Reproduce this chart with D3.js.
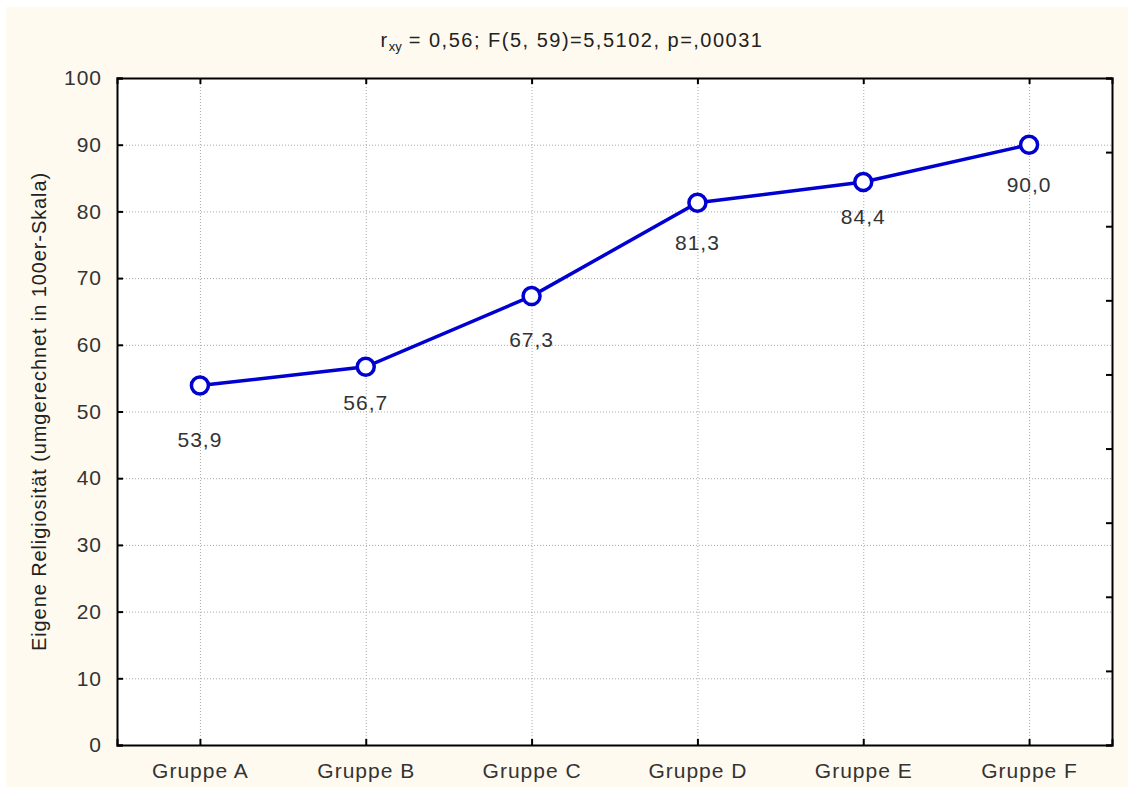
<!DOCTYPE html>
<html>
<head>
<meta charset="utf-8">
<script src="https://cdn.jsdelivr.net/npm/d3@7"></script>
<style>
body { margin: 0; background: #fff; }
svg { display: block; font-family: "Liberation Sans", Arial, sans-serif; }
.grid line { stroke: #a8a8a8; stroke-dasharray: 1,2; }
.grid path { display: none; }
.axis path, .axis line { stroke: #000; stroke-width: 2; }
.axis text { fill: #333; font-size: 21px; letter-spacing: 1px; }
</style>
</head>
<body>
<script>
// data
const groups = ['Gruppe A', 'Gruppe B', 'Gruppe C', 'Gruppe D', 'Gruppe E', 'Gruppe F']
const means = [53.9, 56.7, 67.3, 81.3, 84.4, 90.0]
const meanLabels = ['53,9', '56,7', '67,3', '81,3', '84,4', '90,0']
const labelOffsets = [55, 36, 44, 40, 35, 40] // label distance under the point
const yTicks = [0, 10, 20, 30, 40, 50, 60, 70, 80, 90, 100]
const rightTicks = [0, 1, 2, 3, 4, 5, 6, 7, 8, 9]

const W = 1128, H = 796
const margin = {top: 78, right: 16, bottom: 51, left: 117}
const pw = W - margin.left - margin.right
const ph = H - margin.top - margin.bottom

const svg = d3.select(document.body)
    .append('svg')
    .attr('width', W)
    .attr('height', H)

// panel
svg.append('rect')
    .attr('x', 6).attr('y', 7)
    .attr('width', W - 6).attr('height', H - 16)
    .attr('fill', '#fffaef')

const g = svg.append('g')
    .attr('transform', `translate(${margin.left},${margin.top})`)

g.append('rect')
    .attr('width', pw).attr('height', ph)
    .attr('fill', '#fff')

const xScale = d3.scalePoint()
    .domain(groups)
    .range([0, pw])
    .padding(0.5)
const yScale = d3.scaleLinear()
    .domain([0, 100])
    .range([ph, 0])
const rScale = d3.scaleLinear()
    .domain([0, 9])
    .range([ph, 0])

// grid
g.append('g')
    .attr('class', 'grid')
    .call(d3.axisLeft(yScale).tickValues(yTicks.slice(1, -1)).tickSize(-pw).tickFormat(''))
g.append('g')
    .attr('class', 'grid')
    .attr('transform', `translate(0,${ph})`)
    .call(d3.axisBottom(xScale).tickSize(-ph).tickFormat(''))

// axes
g.append('g')
    .attr('class', 'axis')
    .call(d3.axisLeft(yScale).tickValues(yTicks).tickSize(-6).tickPadding(15))
g.append('g')
    .attr('class', 'axis')
    .attr('transform', `translate(0,${ph})`)
    .call(d3.axisBottom(xScale).tickSize(-6).tickPadding(18))
g.append('g')
    .attr('class', 'axis')
    .call(d3.axisTop(xScale).tickSize(-6).tickFormat(''))
g.append('g')
    .attr('class', 'axis')
    .attr('transform', `translate(${pw},0)`)
    .call(d3.axisRight(rScale).tickValues(rightTicks).tickSize(-6).tickFormat(''))

g.selectAll('.axis .domain').attr('stroke-width', 2.5)

// line
const line = d3.line()
    .x(function(d, i){ return xScale(groups[i]) })
    .y(function(d){ return yScale(d) })

g.append('path')
    .attr('d', line(means))
    .attr('fill', 'none')
    .attr('stroke', '#0000d0')
    .attr('stroke-width', 3.5)

g.selectAll('circle.pt')
    .data(means)
    .enter()
    .append('circle')
    .attr('class', 'pt')
    .attr('cx', function(d, i){ return xScale(groups[i]) })
    .attr('cy', function(d){ return yScale(d) })
    .attr('r', 8.5)
    .attr('fill', '#fff')
    .attr('stroke', '#0000d0')
    .attr('stroke-width', 3.5)

g.selectAll('text.lbl')
    .data(means)
    .enter()
    .append('text')
    .attr('class', 'lbl')
    .attr('x', function(d, i){ return xScale(groups[i]) })
    .attr('y', function(d, i){ return yScale(d) + labelOffsets[i] + 7 })
    .attr('text-anchor', 'middle')
    .attr('font-size', 21)
    .attr('letter-spacing', 1)
    .attr('fill', '#333')
    .text(function(d, i){ return meanLabels[i] })

// title
const title = svg.append('text')
    .attr('x', 572)
    .attr('y', 47)
    .attr('text-anchor', 'middle')
    .attr('font-size', 20)
    .attr('letter-spacing', 1.5)
    .attr('fill', '#222')
title.append('tspan').text('r')
title.append('tspan').attr('font-size', 13).attr('letter-spacing', 0).attr('dy', 4).text('xy')
title.append('tspan').attr('dy', -4).text(' = 0,56; F(5, 59)=5,5102, p=,00031')

// y axis title
svg.append('text')
    .attr('transform', `translate(46,${margin.top + ph / 2}) rotate(-90)`)
    .attr('text-anchor', 'middle')
    .attr('font-size', 20)
    .attr('letter-spacing', 0.9)
    .attr('fill', '#222')
    .text('Eigene Religiosität (umgerechnet in 100er-Skala)')
</script>
</body>
</html>
